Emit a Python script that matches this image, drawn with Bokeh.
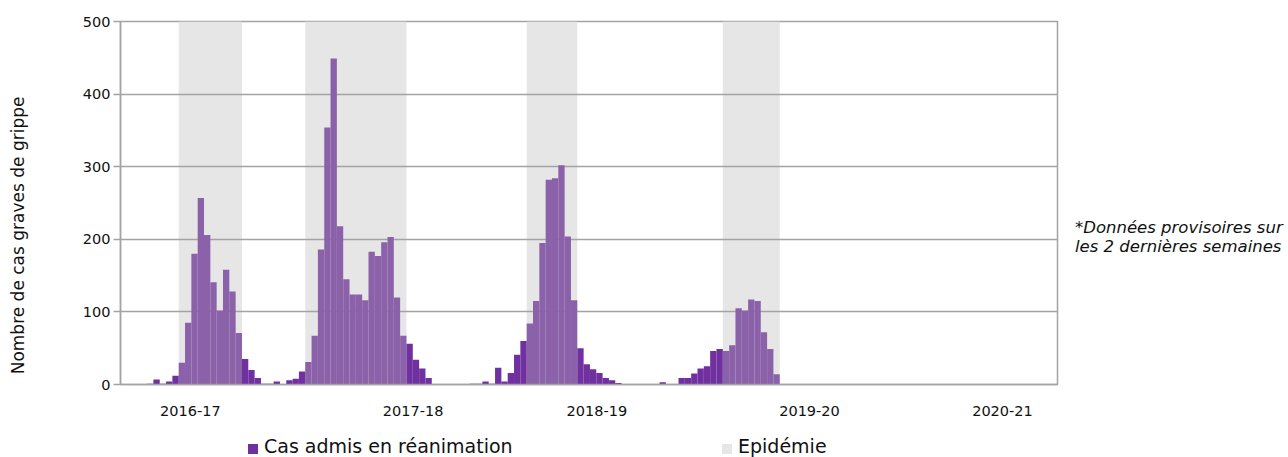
from bokeh.plotting import figure
from bokeh.models import ColumnDataSource, FixedTicker, Range1d, Div
from bokeh.layouts import column, row
from bokeh.embed import file_html
from bokeh.resources import INLINE

# ---------------- data (weekly slots along the x axis) ----------------
season_labels = ["2016-17", "2017-18", "2018-19", "2019-20", "2020-21"]
season_label_pos = [10.85, 46.05, 75.1, 108.7, 139.2]

s1_first_week = 4
s1_cases = [1, 7, 1, 4, 12, 30, 85, 180, 257, 206, 141, 102, 158, 128, 71, 35, 20, 9, 1, 1, 4]
s1_epidemic = [9, 19]

s2_first_week = 26
s2_cases = [6, 8, 18, 31, 67, 186, 354, 449, 218, 145, 124, 124, 116, 183, 177, 196, 203, 120, 67,
            56, 34, 22, 9]
s2_epidemic = [29, 45]

s3_first_week = 55
s3_cases = [1, 1, 4, 1, 23, 4, 16, 41, 60, 84, 115, 195, 282, 284, 302, 204, 116, 50, 28, 21, 16,
            9, 6, 2]
s3_epidemic = [64, 72]

s4_first_week = 85
s4_cases = [3, 0, 0, 9, 9, 15, 22, 25, 46, 49, 46, 54, 105, 102, 117, 115, 72, 49, 14]
s4_epidemic = [95, 104]

note_lines = ["*Données provisoires sur", "les 2 dernières semaines"]
legend_labels = ["Cas admis en réanimation", "Epidémie"]
y_title = "Nombre de cas graves de grippe"

n_slots = 148
y_max = 500

# ---------------- build sources ----------------
seasons = [
    (s1_first_week, s1_cases, s1_epidemic),
    (s2_first_week, s2_cases, s2_epidemic),
    (s3_first_week, s3_cases, s3_epidemic),
    (s4_first_week, s4_cases, s4_epidemic),
]
in_x, in_top, out_x, out_top = [], [], [], []
epi_left, epi_right = [], []
for first, cases, (e0, e1) in seasons:
    epi_left.append(e0)
    epi_right.append(e1)
    for k, v in enumerate(cases):
        slot = first + k
        if e0 <= slot < e1:
            in_x.append(slot + 0.5)
            in_top.append(v)
        else:
            out_x.append(slot + 0.5)
            out_top.append(v)

src_in = ColumnDataSource(dict(x=in_x, top=in_top))
src_out = ColumnDataSource(dict(x=out_x, top=out_top))
src_epi = ColumnDataSource(dict(left=epi_left, right=epi_right,
                                bottom=[0] * len(epi_left), top=[y_max] * len(epi_left)))

FONT = "DejaVu Sans"
GRID = "#A3A3A3"
DARK = "#7030A0"
LIGHT = "#8B62A9"
SHADE = "#E6E6E6"
TXT = "#111111"

p = figure(width=1065, height=432, output_backend="svg", toolbar_location=None,
           x_range=Range1d(-0.2, n_slots - 0.1), y_range=Range1d(0, y_max),
           min_border_left=120, min_border_right=8, min_border_top=21, min_border_bottom=48)
p.background_fill_color = "white"
p.border_fill_color = "white"
p.outline_line_color = GRID
p.outline_line_width = 1.5

p.quad(left="left", right="right", bottom="bottom", top="top", source=src_epi,
       fill_color=SHADE, line_color=None, level="image")
p.vbar(x="x", top="top", width=1.0, source=src_in, fill_color=LIGHT, line_color=None)
p.vbar(x="x", top="top", width=1.0, source=src_out, fill_color=DARK, line_color=None)

# grid
p.xgrid.visible = False
p.ygrid.grid_line_color = GRID
p.ygrid.grid_line_width = 1.5
p.ygrid.ticker = FixedTicker(ticks=[0, 100, 200, 300, 400, 500])

# y axis
p.yaxis.ticker = FixedTicker(ticks=[0, 100, 200, 300, 400, 500])
p.yaxis.axis_line_color = GRID
p.yaxis.axis_line_width = 1.5
p.yaxis.major_tick_line_color = GRID
p.yaxis.major_tick_line_width = 1.5
p.yaxis.major_tick_out = 7
p.yaxis.major_tick_in = 0
p.yaxis.minor_tick_line_color = None
p.yaxis.major_label_standoff = 3
p.yaxis.major_label_text_font = FONT
p.yaxis.major_label_text_font_size = "14.5px"
p.yaxis.major_label_text_color = TXT
# trailing no-break spaces push the rotated title downward, as in the original
p.yaxis.axis_label = y_title + "\u00a0" * 12
p.yaxis.axis_label_text_font = FONT
p.yaxis.axis_label_text_font_size = "17px"
p.yaxis.axis_label_text_font_style = "normal"
p.yaxis.axis_label_text_color = TXT
p.yaxis.axis_label_standoff = 52

# x axis
p.xaxis.ticker = FixedTicker(ticks=season_label_pos)
p.xaxis.major_label_overrides = {pos: lab for pos, lab in zip(season_label_pos, season_labels)}
p.xaxis.axis_line_color = GRID
p.xaxis.axis_line_width = 1.5
p.xaxis.major_tick_line_color = None
p.xaxis.minor_tick_line_color = None
p.xaxis.major_tick_out = 0
p.xaxis.major_tick_in = 0
p.xaxis.major_label_standoff = 21
p.xaxis.major_label_text_font = FONT
p.xaxis.major_label_text_font_size = "14.5px"
p.xaxis.major_label_text_color = TXT

# note on the right
note_html = (
    f'<div style="position:relative;width:223px;height:432px;font-family:\'{FONT}\';'
    f'font-style:italic;font-size:16.5px;line-height:19px;color:{TXT};white-space:nowrap;">'
    f'<div style="position:absolute;left:10px;top:218px;">'
    + "<br>".join(note_lines) + "</div></div>"
)
note_div = Div(text=note_html, width=223, height=432, margin=0)

# legend under the chart
def legend_entry(left, color, label):
    return (f'<div style="position:absolute;left:{left}px;top:12px;width:10px;height:10px;'
            f'background:{color};"></div>'
            f'<div style="position:absolute;left:{left + 16}px;top:3px;font-size:19px;'
            f'line-height:22px;white-space:nowrap;">{label}</div>')

legend_html = (
    f'<div style="position:relative;width:1288px;height:25px;font-family:\'{FONT}\';color:{TXT};">'
    + legend_entry(248, DARK, legend_labels[0])
    + legend_entry(722, SHADE, legend_labels[1])
    + "</div>"
)
legend_div = Div(text=legend_html, width=1288, height=25, margin=0)

layout = column(row(p, note_div), legend_div)
open("out.html", "w").write(file_html(layout, INLINE))
